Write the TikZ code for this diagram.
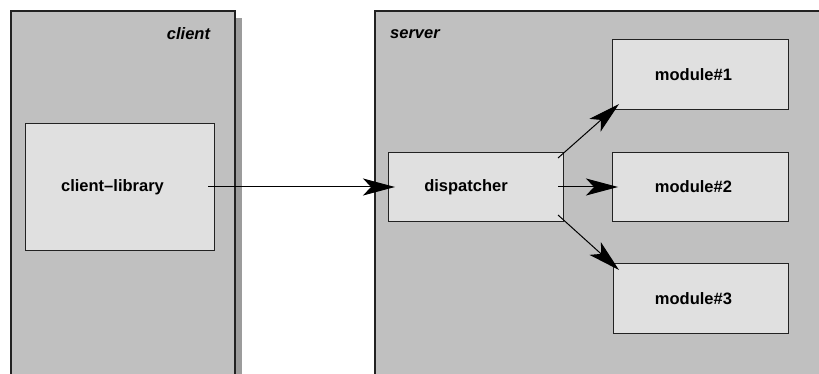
\documentclass[tikz,border=0pt]{standalone}
\usepackage{fontspec}
\setmainfont{Liberation Sans}
\usetikzlibrary{arrows.meta,calc}
\definecolor{panelfill}{HTML}{C0C0C0}
\definecolor{boxfill}{HTML}{E0E0E0}
\definecolor{shadowfill}{HTML}{9C9C9C}
\definecolor{edge}{HTML}{222222}
\tikzset{
  panel/.style={fill=panelfill, draw=edge, line width=1.5pt},
  panelshadow/.style={fill=shadowfill, draw=none},
  box/.style={rectangle, fill=boxfill, draw=edge, line width=1pt, inner sep=0pt, anchor=north west},
  lbl/.style={font=\fontsize{16.5}{19}\selectfont\bfseries, inner sep=0pt},
  tag/.style={font=\fontsize{16.5}{19}\selectfont\bfseries\itshape, inner sep=0pt},
  arr/.style={draw=black, line width=1pt, -{Stealth[length=32pt,width=17pt,inset=8pt]}}
}
\begin{document}
\begin{tikzpicture}[x=1pt, y=-1pt]
  \useasboundingbox (0,0) rectangle (819,374);
  \fill[white] (0,0) rectangle (819,374);

  % client side
  \fill[panelshadow] (18,18) rectangle (242,390);
  \draw[panel] (11,11) rectangle (235,390);
  \node[tag] (clienttag) at (188.5,34) {client};
  \node[box, minimum width=189pt, minimum height=126pt] (cl) at (25,123.5) {};
  \node[lbl] (cltext) at (112.5,187) {client\textendash library};

  % server side
  \fill[panelshadow] (382,18) rectangle (840,390);
  \draw[panel] (375,11) rectangle (840,390);
  \node[tag] (servertag) at (415,34) {server};

  \node[box, minimum width=175pt, minimum height=69pt] (disp) at (388,152) {};
  \node[lbl] (disptext) at (466,187) {dispatcher};

  \node[box, minimum width=176pt, minimum height=70pt] (m1) at (612,39) {};
  \node[lbl] (m1text) at (693.5,74.5) {module\#1};
  \node[box, minimum width=176pt, minimum height=69pt] (m2) at (612,152) {};
  \node[lbl] (m2text) at (693.5,187) {module\#2};
  \node[box, minimum width=175pt, minimum height=70pt] (m3) at (613,263) {};
  \node[lbl] (m3text) at (693.5,298.5) {module\#3};

  % connectors
  \draw[arr] ($(cl.east)+(-7,0)$) -- ($(disp.west)+(7,0)$);
  \draw[arr] ($(disp.north east)+(-6,6)$) -- ($(m1.south west)+(7,-6)$);
  \draw[arr] ($(disp.east)+(-6,0)$) -- ($(m2.west)+(6,0)$);
  \draw[arr] ($(disp.south east)+(-6,-7)$) -- ($(m3.north west)+(6,7)$);
\end{tikzpicture}
\end{document}
